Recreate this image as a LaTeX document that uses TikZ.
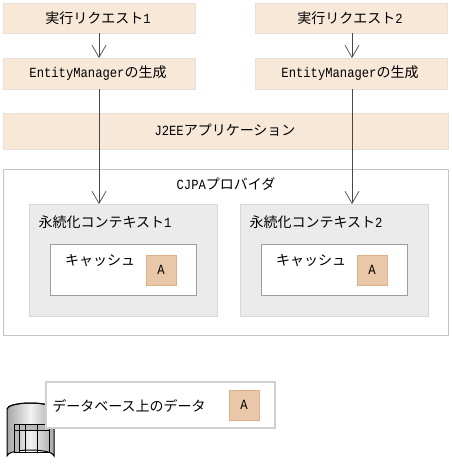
\documentclass[tikz,border=0pt]{standalone}
\usepackage{fontspec}
\setmainfont{Noto Sans CJK JP}
\newfontfamily\lat[FakeStretch=0.87]{Liberation Mono}
\newcommand{\lt}[1]{{\lat\fontsize{14}{15}\selectfont #1}}
\usetikzlibrary{arrows.meta}
\definecolor{req}{HTML}{F8E8D8}
\definecolor{reqb}{HTML}{E8E0D8}
\definecolor{ctx}{HTML}{EBEBEB}
\definecolor{ctxb}{HTML}{D8D8D8}
\definecolor{lb}{HTML}{C4C4C4}
\definecolor{av}{HTML}{E8C8A8}
\definecolor{avb}{HTML}{DDB088}
\definecolor{ln}{HTML}{484848}
\tikzset{x=1pt,y=-1pt,
 txt/.style={font=\fontsize{14}{15}\selectfont,inner sep=0pt},
 band/.style={draw=reqb,fill=req,line width=1pt},
 outer/.style={draw=lb,fill=white,line width=1pt},
 ctxbox/.style={draw=ctxb,fill=ctx,line width=1pt},
 cachebox/.style={draw=lb!80!black,fill=white,line width=1pt},
 abox/.style={draw=avb,fill=av,line width=1pt,minimum size=30pt,inner sep=0pt},
 flow/.style={draw=ln,line width=1pt,-{Straight Barb[length=12pt,width=14pt,line width=.7pt]}}}
\begin{document}
\begin{tikzpicture}
\useasboundingbox (0,0) rectangle (451,469);
\fill[white] (0,0) rectangle (451,469);
\path[band] (3,3) rectangle (195,33);
\node[txt] (r1) at (98,18) {実行リクエスト\lt{1}};
\path[band] (255,3) rectangle (447,33);
\node[txt] (r2) at (350,18) {実行リクエスト\lt{2}};
\path[band] (3,58) rectangle (195,89);
\node[txt] (e1) at (98,73) {\lt{EntityManager}の生成};
\path[band] (255,58) rectangle (447,89);
\node[txt] (e2) at (350,73) {\lt{EntityManager}の生成};
\path[band] (3,113) rectangle (448,149);
\node[txt] (j) at (225,130) {\lt{J2EE}アプリケーション};
\path[outer] (3,169) rectangle (448,335);
\node[txt] (c) at (226,184) {\lt{CJPA}プロバイダ};
\path[ctxbox] (29,204) rectangle (217,316);
\node[txt] (p1) at (105,222) {永続化コンテキスト\lt{1}};
\path[ctxbox] (240,204) rectangle (428,316);
\node[txt] (p2) at (316,222) {永続化コンテキスト\lt{2}};
\path[cachebox] (50,244) rectangle (196,295);
\node[txt] (k1) at (100,261) {キャッシュ};
\path[cachebox] (261,244) rectangle (407,295);
\node[txt] (k2) at (311,261) {キャッシュ};
\node[abox] (a1) at (161,270) {\lt{A}};
\node[abox] (a2) at (372,270) {\lt{A}};
% cylinder
\shade[left color=gray!70,right color=gray!70,middle color=white!90!gray,draw=black,line width=1pt]
 (7,409) -- (7,456) arc[start angle=180,end angle=360,x radius=23.5,y radius=6] -- (54,409) arc[start angle=0,end angle=-180,x radius=23.5,y radius=6];
\draw[line width=1pt] (7,409) arc[start angle=180,end angle=360,x radius=23.5,y radius=6];
\fill[gray!55] (14,424) rectangle (49,430) (14,430) rectangle (19,452);
\draw[line width=1pt] (14,424) rectangle (49,452) (14,430) -- (49,430) (19,424) -- (19,452) (25,424) -- (25,452) (37,424) -- (37,452);
\path[draw=lb!80!white,fill=white,line width=1.3pt] (46,382) rectangle (275,428);
\node[txt] (d) at (129,406) {データベース上のデータ};
\node[abox] (a3) at (244,405) {\lt{A}};
\coordinate (s1) at (99,33); \coordinate (t1) at (99,58);
\coordinate (s2) at (352,33); \coordinate (t2) at (352,58);
\coordinate (s3) at (99,89); \coordinate (t3) at (99,204);
\coordinate (s4) at (352,89); \coordinate (t4) at (352,204);
\draw[flow] (s1) -- (t1);
\draw[flow] (s2) -- (t2);
\draw[flow] (s3) -- (t3);
\draw[flow] (s4) -- (t4);
\end{tikzpicture}
\end{document}
